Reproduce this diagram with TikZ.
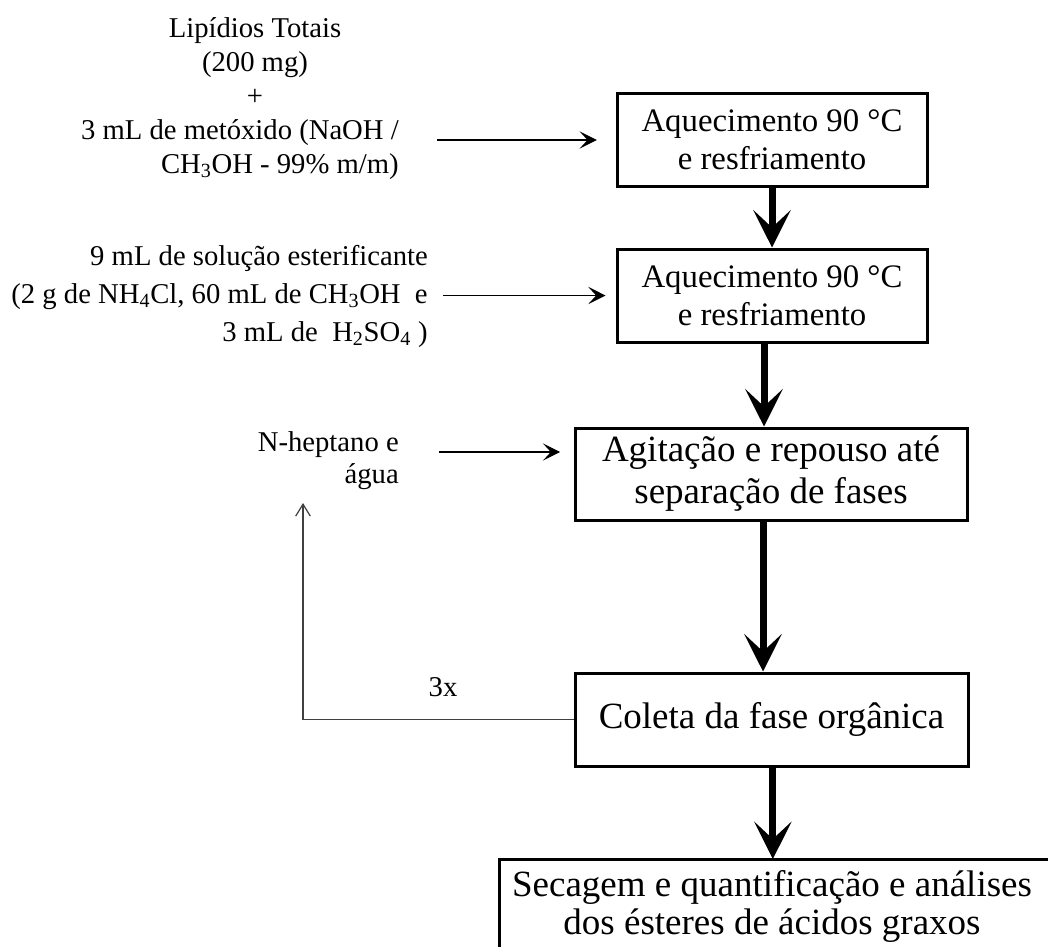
\documentclass[tikz,border=0pt]{standalone}
\usepackage{fontspec}
\setmainfont{Liberation Serif}
\usetikzlibrary{arrows.meta}
\newcommand\fsmall{\fontsize{21.5pt}{25.2pt}\selectfont}
\newcommand\fsmalln{\fontsize{21.5pt}{24pt}\selectfont}
\newcommand\fsmallb{\fontsize{21.5pt}{28.5pt}\selectfont}
\newcommand\fmid{\fontsize{24.6pt}{28.5pt}\selectfont}
\newcommand\fbig{\fontsize{27.75pt}{31.5pt}\selectfont}
\newcommand\fbigb{\fontsize{27.75pt}{28pt}\selectfont}
\begin{document}
\begin{tikzpicture}[x=0.75pt,y=-0.75pt,
  procbox/.style={draw, line width=2.25pt, inner sep=0pt, align=center},
  sidetext/.style={inner sep=0pt, font=\fsmall},
  mainarrow/.style={line width=5.25pt, -{Stealth[length=28pt,width=28pt,inset=13pt]}},
  inarrow/.style={line width=0.9pt, -{Stealth[length=13pt,width=13pt,inset=6pt]}},
  looparrow/.style={line width=0.9pt, draw=black!75, -{Straight Barb[length=9pt,width=11pt]}},
]
\fill[white] (0,0) rectangle (1048,947);
\useasboundingbox (0,0) rectangle (1048,947);

% process boxes
\node[procbox, font=\fmid, minimum width=310*0.75pt, minimum height=93*0.75pt] (b1) at (772,139.5) {Aquecimento 90 °C\\e resfriamento};
\node[procbox, font=\fmid, minimum width=310*0.75pt, minimum height=93*0.75pt] (b2) at (772,295.5) {Aquecimento 90 °C\\e resfriamento};
\node[procbox, font=\fbig, minimum width=392*0.75pt, minimum height=92*0.75pt] (b3) at (771,474) {Agitação e repouso até\\separação de fases};
\node[procbox, font=\fbig, minimum width=393*0.75pt, minimum height=93*0.75pt] (b4) at (771.5,719.5) {Coleta da fase orgânica};
\node[inner sep=0pt, align=center, font=\fbigb, anchor=base] (b5) at (772,934) {Secagem e quantificação e análises\\dos ésteres de ácidos graxos};
\coordinate (b5nw) at (499,859);
\draw[line width=2.25pt] (499,947) -- (b5nw) -- (1048,859);

% side texts (anchor base = baseline of last line)
\node[sidetext, align=center, anchor=base] (t1) at (255,105) {Lipídios Totais\\(200 mg)\\+};
\node[sidetext, align=right, anchor=base east] (t2) at (399,173) {3 mL de metóxido (NaOH /\\CH\textsubscript{3}OH - 99\% m/m)};
\node[sidetext, align=right, anchor=base east, font=\fsmallb] (t3) at (428,341) {9 mL de solução esterificante\\(2 g de NH\textsubscript{4}Cl, 60 mL de CH\textsubscript{3}OH\ \ e\\3 mL de\ \ H\textsubscript{2}SO\textsubscript{4} )};
\node[sidetext, align=right, anchor=base east, font=\fsmalln] (t4) at (399,483) {N-heptano e\\água};
\node[sidetext, anchor=base] (lbl) at (443,696) {3x};

% input arrows
\coordinate (a1s) at (437,140);
\draw[inarrow, shorten >=14pt] (a1s) -- (a1s -| b1.west);
\coordinate (a2s) at (443,295.5);
\draw[inarrow, shorten >=7.5pt] (a2s) -- (a2s -| b2.west);
\coordinate (a3s) at (439,452);
\draw[inarrow, shorten >=10pt] (a3s) -- (a3s -| b3.west);

% main flow
\draw[mainarrow] (b1.south) -- (b2.north);
\draw[mainarrow] ([xshift=-6pt]b2.south) -- ([xshift=-6pt]b2.south |- b3.north);
\draw[mainarrow] ([xshift=-6pt]b3.south) -- ([xshift=-6pt]b3.south |- b4.north);
\draw[mainarrow] ([xshift=1pt]b4.south) -- ([xshift=1pt]b4.south |- b5nw);

% loop
\coordinate (loopTop) at (303,503);
\draw[looparrow] (b4.west) -| (loopTop);
\end{tikzpicture}
\end{document}
